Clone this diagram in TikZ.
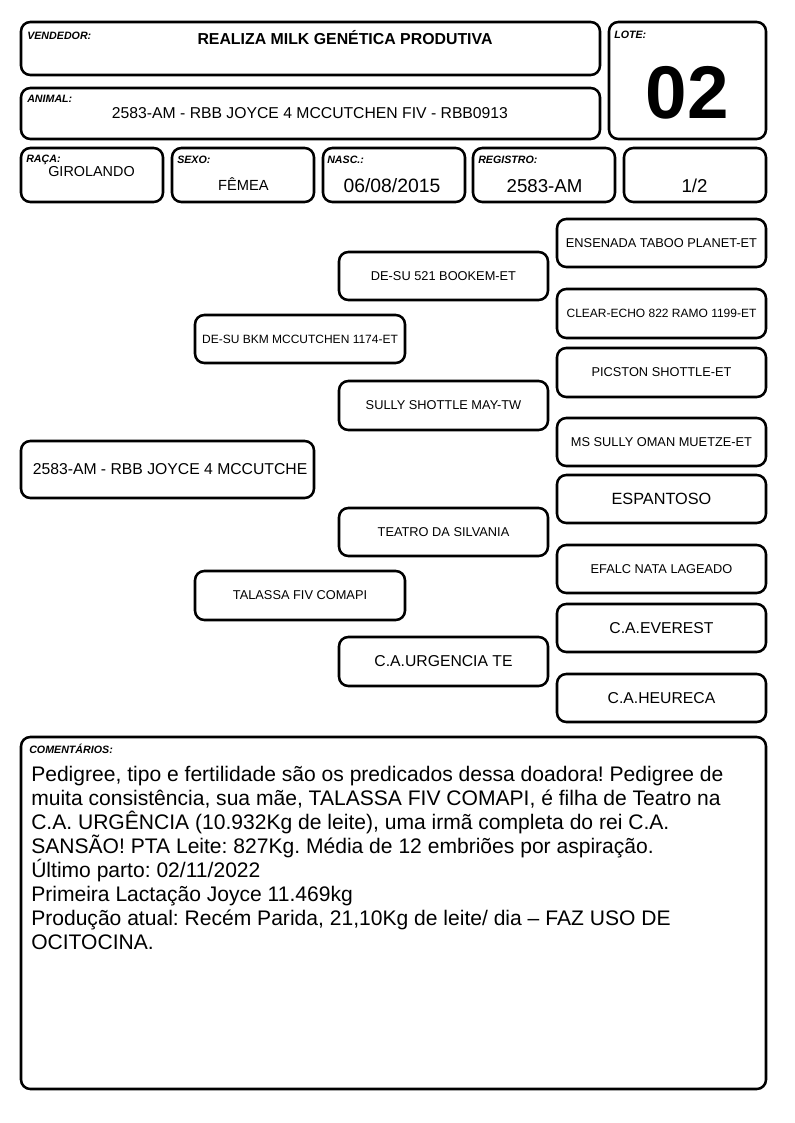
\documentclass[tikz,border=0pt]{standalone}
\usepackage{fontspec}
\setmainfont{Liberation Sans}
\frenchspacing
\begin{document}
\begin{tikzpicture}[x=0.75pt,y=-0.75pt,
  box/.style={draw=black,line width=1.9pt,rounded corners=7pt,fill=white,inner sep=0pt},
  sz/.style 2 args={minimum width=#1*0.75pt,minimum height=#2*0.75pt},
  lbl/.style={anchor=north west,inner sep=0pt,font=\fontsize{8}{9}\selectfont\bfseries\itshape},
  pt/.style={font=\fontsize{9.6}{11}\selectfont},
  pn/.style={font=\fontsize{9}{11}\selectfont},
  pl/.style={font=\fontsize{11.8}{13}\selectfont}]
\useasboundingbox (0,0) rectangle (794,1123);
% header
\node[box,sz={579}{53}] (vend) at (310.5,48.5) {};
\node[lbl] (vendl) at (27,31.5) {VENDEDOR:};
\node[font=\fontsize{11.9}{13}\selectfont\bfseries,inner sep=0pt] (vendt) at (345,38) {REALIZA MILK GENÉTICA PRODUTIVA};
\node[box,sz={157}{117}] (lote) at (687.5,80.5) {};
\node[lbl] (lotel) at (614,31) {LOTE:};
\node[font=\fontsize{56}{60}\selectfont\bfseries,inner sep=0pt] (lotet) at (687.5,93) {02};
\node[box,sz={579}{51}] (anim) at (310.5,113.5) {};
\node[lbl] (animl) at (27,95) {ANIMAL:};
\node[font=\fontsize{11.8}{13}\selectfont,inner sep=0pt] (animt) at (310,113) {2583-AM - RBB JOYCE 4 MCCUTCHEN FIV - RBB0913};
\node[box,sz={142}{54}] (raca) at (92,175) {};
\node[lbl] (racal) at (26,155) {RAÇA:};
\node[font=\fontsize{10.8}{13}\selectfont,inner sep=0pt] (racat) at (91.5,172) {GIROLANDO};
\node[box,sz={142}{54}] (sexo) at (243,175) {};
\node[lbl] (sexol) at (177,156) {SEXO:};
\node[font=\fontsize{11}{13}\selectfont,inner sep=0pt] (sexot) at (243.5,184) {FÊMEA};
\node[box,sz={142}{54}] (nasc) at (394,175) {};
\node[lbl] (nascl) at (327,156) {NASC.:};
\node[font=\fontsize{14.5}{16}\selectfont,inner sep=0pt] (nasct) at (392,186) {06/08/2015};
\node[box,sz={142}{54}] (reg) at (544,175) {};
\node[lbl] (regl) at (478,156) {REGISTRO:};
\node[font=\fontsize{14}{16}\selectfont,inner sep=0pt] (regt) at (544.5,186) {2583-AM};
\node[box,sz={142}{54}] (half) at (695,175) {};
\node[font=\fontsize{14}{16}\selectfont,inner sep=0pt] (halft) at (694.5,186) {1/2};
% pedigree
\node[box,sz={293}{57},font=\fontsize{11.8}{14}\selectfont] (main) at (167.5,469.5) {\hspace*{2\pgflinewidth}2583-AM - RBB JOYCE 4 MCCUTCHE};
\node[box,sz={210}{48},pn] (sire) at (300,339) {DE-SU BKM MCCUTCHEN 1174-ET};
\node[box,sz={210}{49},pt] (dam) at (300,595.5) {TALASSA FIV COMAPI};
\node[box,sz={209}{48},pt] (ss) at (443.5,276) {DE-SU 521 BOOKEM-ET};
\node[box,sz={209}{49},pt] (sd) at (443.5,405.5) {SULLY SHOTTLE MAY-TW};
\node[box,sz={209}{48},pt] (ds) at (443.5,532) {TEATRO DA SILVANIA};
\node[box,sz={209}{49},pl] (dd) at (443.5,661.5) {C.A.URGENCIA TE};
\node[box,sz={209}{48},pt] (g1) at (661.5,243) {ENSENADA TABOO PLANET-ET};
\node[box,sz={209}{49},pn] (g2) at (661.5,313.5) {CLEAR-ECHO 822 RAMO 1199-ET};
\node[box,sz={209}{49},pt] (g3) at (661.5,372.5) {PICSTON SHOTTLE-ET};
\node[box,sz={209}{48},pt] (g4) at (661.5,442) {MS SULLY OMAN MUETZE-ET};
\node[box,sz={209}{48},font=\fontsize{12.2}{14}\selectfont] (g5) at (661.5,499) {ESPANTOSO};
\node[box,sz={209}{48},pt] (g6) at (661.5,569) {EFALC NATA LAGEADO};
\node[box,sz={209}{48},pl] (g7) at (661.5,628) {C.A.EVEREST};
\node[box,sz={209}{48},pl] (g8) at (661.5,698) {C.A.HEURECA};
% comments
\node[box,sz={745}{352}] (com) at (393.5,913) {};
\node[lbl] (coml) at (29,744) {COMENTÁRIOS:};
\node[anchor=north west,inner sep=0pt,align=left,font=\fontsize{15.8}{18}\selectfont] (comt) at (31,765.5) {Pedigree, tipo e fertilidade são os predicados dessa doadora! Pedigree de\\
muita consistência, sua mãe, TALASSA FIV COMAPI, é filha de Teatro na\\
C.A. URGÊNCIA (10.932Kg de leite), uma irmã completa do rei C.A.\\
SANSÃO! PTA Leite: 827Kg. Média de 12 embriões por aspiração.\\
Último parto: 02/11/2022\\
Primeira Lactação Joyce 11.469kg\\
Produção atual: Recém Parida, 21,10Kg de leite/ dia – FAZ USO DE\\
OCITOCINA.};
\end{tikzpicture}
\end{document}
